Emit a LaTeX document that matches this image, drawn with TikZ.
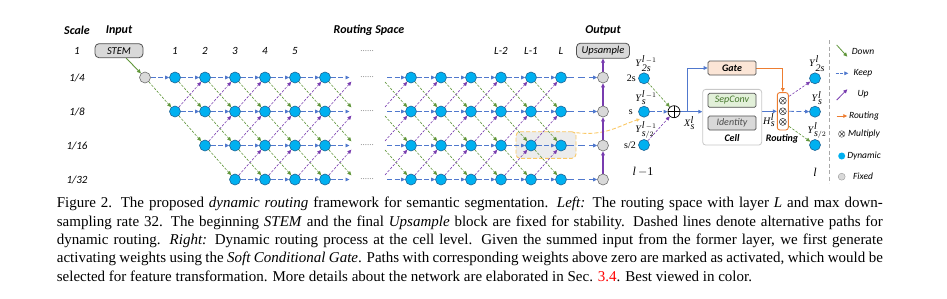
\documentclass[tikz,border=0pt]{standalone}
\usepackage{fontspec}
\setmainfont{Liberation Serif}
\newfontfamily\calib{Carlito}
\usetikzlibrary{arrows.meta,backgrounds,calc}
\definecolor{dynF}{RGB}{0,176,240}
\definecolor{dynD}{RGB}{30,100,150}
\definecolor{fixF}{RGB}{217,217,217}
\definecolor{fixD}{RGB}{110,110,110}
\definecolor{boxD}{RGB}{80,80,80}
\definecolor{keepC}{RGB}{80,120,205}
\definecolor{downC}{RGB}{96,150,58}
\definecolor{upC}{RGB}{120,60,175}
\definecolor{orgC}{RGB}{237,125,49}
\definecolor{hlC}{RGB}{250,200,100}
\definecolor{hlF}{RGB}{236,236,236}
\definecolor{gateF}{RGB}{251,229,214}
\definecolor{sepF}{RGB}{226,240,217}
\definecolor{sepT}{RGB}{70,120,45}
\definecolor{cellD}{RGB}{200,200,200}
\tikzset{
 dyn/.style={circle,fill=dynF,draw=dynD,line width=0.6pt,minimum size=11pt,inner sep=0pt},
 fix/.style={circle,fill=fixF,draw=fixD,line width=0.6pt,minimum size=11pt,inner sep=0pt},
 tipA/.style={-{Triangle[length=4pt,width=3.6pt]}},
 keeparr/.style={tipA,draw=keepC,line width=0.8pt,dash pattern=on 5pt off 2.5pt},
 keeplong/.style={tipA,draw=keepC,line width=0.8pt,dash pattern=on 7pt off 4pt},
 downarr/.style={tipA,draw=downC,line width=0.6pt,dash pattern=on 2.5pt off 1.5pt},
 uparr/.style={tipA,draw=upC,line width=0.6pt,dash pattern=on 2.5pt off 1.5pt},
 lab/.style={font=\calib\itshape\fontsize{11}{13}\selectfont,inner sep=0pt},
 head/.style={font=\calib\bfseries\itshape\fontsize{12}{14}\selectfont,inner sep=0pt},
 dots/.style={font=\fontsize{9}{9}\selectfont,text=gray,inner sep=0pt},
 fixbox/.style={rounded corners=4pt,fill=fixF,draw=boxD,line width=0.8pt,minimum height=14pt,inner sep=0pt,font=\calib\itshape\fontsize{10.5}{12}\selectfont},
 smallbox/.style={rounded corners=1.5pt,draw=boxD,line width=0.7pt,minimum width=48pt,minimum height=14pt,inner sep=0pt,font=\calib\itshape\fontsize{10}{12}\selectfont},
 blab/.style={font=\calib\bfseries\itshape\fontsize{10}{12}\selectfont,inner sep=0pt},
 leg/.style={font=\calib\itshape\fontsize{9.5}{11}\selectfont,inner sep=0pt},
 ylab/.style={font=\fontsize{10}{11}\selectfont,inner sep=0pt},
 otimes/.style={circle,draw=black!80,line width=0.5pt,minimum size=7pt,inner sep=0pt,
   path picture={\draw[line width=0.5pt,black!80] (path picture bounding box.north west) -- (path picture bounding box.south east) (path picture bounding box.north east) -- (path picture bounding box.south west);}},
 oplus/.style={circle,draw=black,line width=0.7pt,minimum size=12pt,inner sep=0pt,
   path picture={\draw[line width=0.7pt] (path picture bounding box.north) -- (path picture bounding box.south) (path picture bounding box.west) -- (path picture bounding box.east);}},
 solidB/.style={tipA,draw=keepC,line width=0.9pt},
 solidO/.style={tipA,draw=orgC,line width=0.9pt},
 solidP/.style={tipA,draw=upC,line width=1.2pt},
 solidG/.style={tipA,draw=downC,line width=0.9pt},
}
\newcommand\Ysym[3]{\textit{#1}$^{#2}_{#3}$}
\begin{document}
\begin{tikzpicture}[x=1pt,y=-1pt]
\useasboundingbox (0,0) rectangle (947,298);
% headers
\node[head] (hScale) at (77,30.7) {Scale};
\node[head] (hInput) at (119,30.7) {Input};
\node[head] (hRS) at (369,30.7) {Routing Space};
\node[head] (hOut) at (603,30.7) {Output};
\node[lab] (s1) at (77,50.7) {1};
\node[fixbox,minimum width=48pt] (stem) at (119,50.7) {STEM};
\foreach \c in {1,...,5}{\node[lab] (n\c) at ({145+30*\c},50.7) {\c};}
\node[dots] (tdots) at (367,50.7) {......};
\node[lab] (nL2) at (501,50.7) {L-2};
\node[lab] (nL1) at (531,50.7) {L-1};
\node[lab] (nL) at (561,50.7) {L};
\node[fixbox,minimum width=53pt,minimum height=15pt] (ups) at (603,50.7) {Upsample};
\foreach \r/\t in {1/1\slash 4,2/1\slash 8,3/1\slash 16,4/1\slash 32}{
  \node[lab] (rl\r) at (77,{77.5+34*(\r-1)}) {\t};}
% left grid nodes
\node[fix] (L-0-1) at (145,77.5) {};
\foreach \c in {1,...,6}{
 \foreach \r in {1,...,4}{
  \pgfmathtruncatemacro{\mc}{max(1,\r-1)}
  \pgfmathsetmacro{\yy}{77.5+34*(\r-1)}
  \ifnum\c<\mc\relax\else
   \node[dyn] (L-\c-\r) at ({145+30*\c},\yy) {};
  \fi
 }}
\foreach \r in {1,...,4}{
  \pgfmathsetmacro{\yy}{77.5+34*(\r-1)}
  \coordinate (V-\r) at (355,\yy);
  \coordinate (W-\r) at (381,\yy);
  \node[dots] (d\r) at (367,\yy) {......};
  \foreach \c in {1,...,6}{\node[dyn] (R-\c-\r) at ({381+30*\c},\yy) {};}
  \node[fix] (G-\r) at (603,\yy) {};
}
\coordinate (V-0) at (355,43.5);
\coordinate (V-5) at (355,213.5);
\coordinate (W-0) at (381,43.5);
\coordinate (W-5) at (381,213.5);
% right panel
\node[dyn] (P-1) at (644,78.3) {};
\node[dyn] (P-2) at (644,111.7) {};
\node[dyn] (P-3) at (644,145) {};
\node[dyn] (Q-1) at (815,78.3) {};
\node[dyn] (Q-2) at (815,111.7) {};
\node[dyn] (Q-3) at (815,145) {};
\node[ylab,anchor=east] (t2s) at (636,78.3) {2s};
\node[ylab,anchor=east] (ts) at (633,111.7) {s};
\node[ylab,anchor=east] (ts2) at (636,145) {s/2};
\node[ylab,anchor=south] (y1) at (646,71.5) {\Ysym{Y}{\textit{l}\,-1}{\textit{2s}}};
\node[ylab,anchor=south] (y2) at (646,104.9) {\Ysym{Y}{\textit{l}\,-1}{\textit{s}}};
\node[ylab,anchor=south] (y3) at (646,138.2) {\Ysym{Y}{\textit{l}\,-1}{\textit{s}/2}};
\node[ylab,anchor=south] (z1) at (817,71.5) {\Ysym{Y}{\textit{l}}{\textit{2s}}};
\node[ylab,anchor=south] (z2) at (817,104.9) {\Ysym{Y}{\textit{l}}{\textit{s}}};
\node[ylab,anchor=south] (z3) at (817,138.2) {\Ysym{Y}{\textit{l}}{\textit{s}/2}};
\node[ylab,font=\fontsize{12}{13}\selectfont] (lm1) at (643,172) {\textit{l}\,$-$1};
\node[ylab,font=\fontsize{12}{13}\selectfont] (lo) at (815,172) {\textit{l}};
\node[oplus] (sum) at (674,111.7) {};
\node[ylab,anchor=north west] (xl) at (684,116) {\Ysym{X}{\textit{l}}{\textit{s}}};
\node[smallbox,fill=gateF,font=\calib\bfseries\itshape\fontsize{10}{12}\selectfont] (gate) at (732,68) {Gate};
\node[rounded corners=3pt,draw=cellD,fill=white,line width=0.8pt,minimum width=59pt,minimum height=55.7pt,inner sep=0pt] (cell) at (732.2,117.2) {};
\node[smallbox,fill=sepF,text=sepT] (sep) at (732,100.3) {SepConv};
\node[smallbox,fill=fixF,text=black!70] (idn) at (732,123) {Identity};
\node[blab] (celll) at (732,138.5) {Cell};
\node[rounded corners=2.5pt,draw=orgC,fill=white,line width=0.9pt,minimum width=11pt,minimum height=37.4pt,inner sep=0pt] (route) at (782.8,111.3) {};
\node[otimes] (m1) at (782.8,100.7) {};
\node[otimes] (m2) at (782.8,111.3) {};
\node[otimes] (m3) at (782.8,121.9) {};
\node[blab] (routl) at (782,138.5) {Routing};
\node[ylab,anchor=north west] (hl) at (763,113.5) {\Ysym{H}{\textit{l}}{\textit{s}}};
\coordinate (br) at (687,111.7);
% legend
\coordinate (lgTop) at (829,40);
\coordinate (lgBot) at (829,183);
\draw[fixD!60,line width=1pt,dash pattern=on 4pt off 2.5pt] (lgTop) -- (lgBot);
\coordinate (a1s) at (836.7,45); \coordinate (a1e) at (847.3,56.7);
\coordinate (a2s) at (835.7,73.3); \coordinate (a2e) at (848.3,73.3);
\coordinate (a3s) at (836.7,100); \coordinate (a3e) at (847.3,89.3);
\coordinate (a4s) at (836.7,116); \coordinate (a4e) at (847.3,116);
\draw[solidG,line width=0.8pt] (a1s) -- (a1e);
\draw[keeparr,dash pattern=on 3pt off 1.5pt] (a2s) -- (a2e);
\draw[solidP,line width=0.8pt] (a3s) -- (a3e);
\draw[solidO,line width=0.8pt] (a4s) -- (a4e);
\node[otimes,draw=black!60,minimum size=6.5pt] (lgm) at (841.7,134) {};
\node[circle,fill=dynF,minimum size=7pt,inner sep=0pt] (lgd) at (841.7,156) {};
\node[circle,fill=fixF,draw=fixD!70,line width=0.4pt,minimum size=7pt,inner sep=0pt] (lgf) at (841.7,176.7) {};
\node[leg] (t1) at (863,51.7) {Down};
\node[leg] (t2) at (863,73.3) {Keep};
\node[leg] (t3) at (863,94) {Up};
\node[leg] (t4) at (864,116) {Routing};
\node[leg] (t5) at (864,134) {Multiply};
\node[leg] (t6) at (864,156) {Dynamic};
\node[leg] (t7) at (863,176.7) {Fixed};
% caption
\node[anchor=north west,inner sep=0pt,text width=826pt,align=justify,font=\fontsize{15}{18.3}\selectfont] (cap) at (56.7,197.2) {%
Figure 2. The proposed \textit{dynamic routing} framework for semantic segmentation. \textit{Left:} The routing space with layer \textit{L} and max down-\linebreak
sampling rate 32. The beginning \textit{STEM} and the final \textit{Upsample} block are fixed for stability. Dashed lines denote alternative paths for\linebreak
dynamic routing. \textit{Right:} Dynamic routing process at the cell level. Given the summed input from the former layer, we first generate\linebreak
activating weights using the \textit{Soft Conditional Gate}. Paths with corresponding weights above zero are marked as activated, which would be\linebreak
selected for feature transformation. More details about the network are elaborated in Sec. \textcolor{red}{3.4}. Best viewed in color.};
% edges
\begin{pgfonlayer}{background}
 \node[rounded corners=4pt,draw=hlC,fill=hlF,line width=0.9pt,dash pattern=on 4pt off 2pt,minimum width=60pt,minimum height=26.6pt,inner sep=0pt] (hlb) at (546,145) {};
 \draw[hlC,line width=0.9pt,dash pattern=on 4pt off 2pt,-{Triangle[length=3.5pt,width=3pt]}] ([yshift=-1.5pt]hlb.north east) .. controls (606,136) and (618,126) .. (640,119);
 \draw[solidG] (stem) -- (L-0-1);
 \foreach \c in {0,...,5}{
  \foreach \r in {1,...,4}{
   \pgfmathtruncatemacro{\mc}{max(1,\r-1)}
   \pgfmathtruncatemacro{\n}{\c+1}
   \pgfmathtruncatemacro{\dn}{\r+1}
   \pgfmathtruncatemacro{\up}{\r-1}
   \pgfmathtruncatemacro{\ok}{(\c>=\mc) || (\c==0 && \r==1)}
   \ifnum\ok=1
     \draw[keeparr] (L-\c-\r) -- (L-\n-\r);
     \ifnum\r<4 \draw[downarr] (L-\c-\r) -- (L-\n-\dn); \fi
     \ifnum\r>1 \draw[uparr] (L-\c-\r) -- (L-\n-\up); \fi
   \fi
  }}
 \foreach \r in {1,...,4}{
   \pgfmathtruncatemacro{\dn}{\r+1}
   \pgfmathtruncatemacro{\up}{\r-1}
   \draw[keeparr,shorten >=5.5pt] (L-6-\r) -- (V-\r);
   \ifnum\r<4 \draw[downarr,shorten >=5.5pt] (L-6-\r) -- (V-\dn); \fi
   \ifnum\r>1 \draw[uparr,shorten >=5.5pt] (L-6-\r) -- (V-\up); \fi
   \draw[keeparr,shorten <=6pt] (W-\r) -- (R-1-\r);
   \ifnum\r<4 \draw[downarr,shorten <=6pt] (W-\r) -- (R-1-\dn); \fi
   \ifnum\r>1 \draw[uparr,shorten <=6pt] (W-\r) -- (R-1-\up); \fi
   \foreach \c in {1,...,5}{
     \pgfmathtruncatemacro{\n}{\c+1}
     \draw[keeparr] (R-\c-\r) -- (R-\n-\r);
     \ifnum\r<4 \draw[downarr] (R-\c-\r) -- (R-\n-\dn); \fi
     \ifnum\r>1 \draw[uparr] (R-\c-\r) -- (R-\n-\up); \fi
   }
   \draw[keeplong] (R-6-\r) -- (G-\r);
 }
 \draw[solidP] (G-4) -- (G-3);
 \draw[solidP] (G-3) -- (G-2);
 \draw[solidP] (G-2) -- (G-1);
 \draw[solidP] (G-1) -- (ups);
 \draw[downarr] (P-1) -- (sum);
 \draw[keeparr] (P-2) -- (sum);
 \draw[uparr] (P-3) -- (sum);
 \draw[solidB] (sum) -- (cell.west |- sum);
 \draw[solidB] (br) |- (gate.west);
 \draw[solidO] (gate.east) -| (route.north);
 \draw[solidB] (cell.east |- route.west) -- (route.west);
 \draw[uparr] (m1) -- (Q-1);
 \draw[keeparr] (route.east) -- (Q-2);
 \draw[downarr] (m3) -- (Q-3);
\end{pgfonlayer}
\end{tikzpicture}
\end{document}
